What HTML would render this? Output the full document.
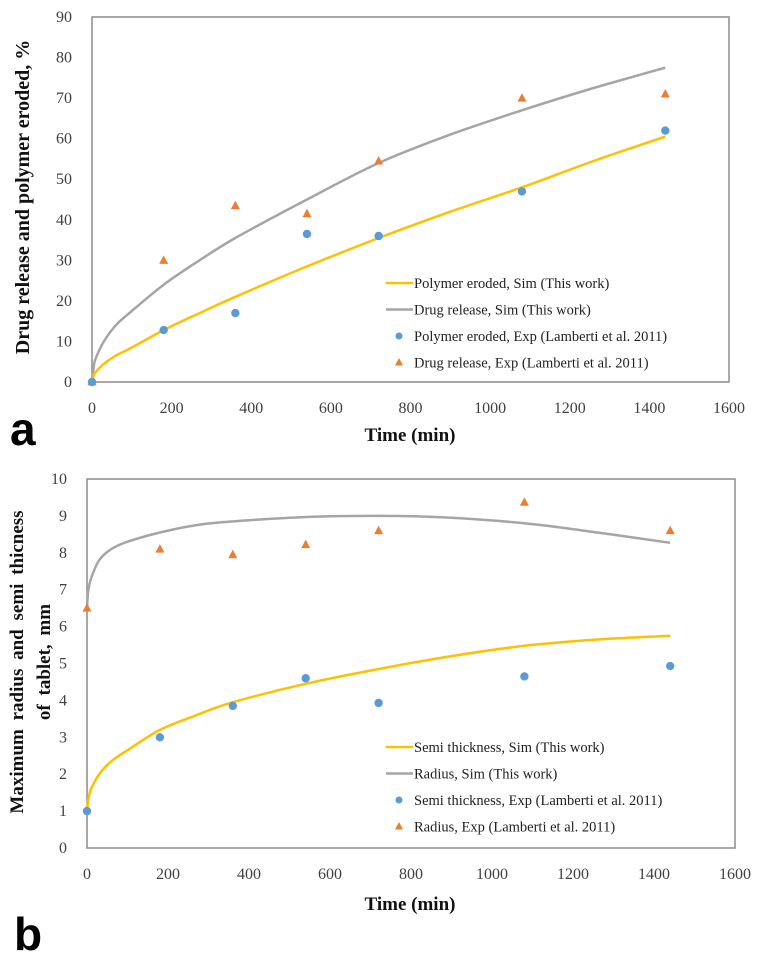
<!DOCTYPE html>
<html><head><meta charset="utf-8">
<style>
html,body{margin:0;padding:0;background:#fff;}
svg{display:block;}
text{font-family:"Liberation Serif",serif;}
</style></head>
<body>
<svg id="chart" width="758" height="962" viewBox="0 0 758 962" xmlns="http://www.w3.org/2000/svg"></svg>
<script>
// Panel a data
const aTimeExp = [0,180,360,540,720,1080,1440];
const aPolymerExp = [0,12.8,17,36.5,36,47,62];
const aDrugExp = [0,30,43.5,41.5,54.5,70,71];
const aTimeSim = [0,5,10,30,60,100,180,270,360,540,720,900,1080,1260,1440];
const aPolymerSim = [0,1.8,2.5,4.5,6.5,8.5,12.8,17,21,28.5,35.5,42,48,54.5,60.5];
const aDrugSim = [0,4.2,6,10,14,17.5,24,30,35.5,45,54,61,67,72.5,77.5];
const aYTicks = [0,10,20,30,40,50,60,70,80,90];
const xTicks = [0,200,400,600,800,1000,1200,1400,1600];
// Panel b data
const bTimeExp = [0,180,360,540,720,1080,1440];
const bSemiExp = [1,3,3.85,4.6,3.93,4.65,4.93];
const bRadiusExp = [6.5,8.1,7.95,8.22,8.6,9.37,8.6];
const bTimeSim = [0,3,10,30,60,100,180,270,360,540,720,900,1080,1260,1440];
const bSemiSim = [1,1.3,1.6,2.0,2.35,2.65,3.2,3.6,3.95,4.45,4.85,5.2,5.48,5.65,5.75];
const bRadiusSim = [6.5,6.95,7.3,7.8,8.1,8.3,8.55,8.75,8.85,8.97,9.0,8.95,8.8,8.55,8.27];
const bYTicks = [0,1,2,3,4,5,6,7,8,9,10];

const NS = 'http://www.w3.org/2000/svg';
const svg = document.getElementById('chart');
function mk(tag, attrs, parent, txt){
  const e = document.createElementNS(NS, tag);
  for (const k in attrs) e.setAttribute(k, attrs[k]);
  if (txt !== undefined) e.textContent = txt;
  (parent || svg).appendChild(e);
  return e;
}
function smooth(P){
  let d = 'M' + P[0][0].toFixed(1) + ',' + P[0][1].toFixed(1);
  for (let i = 0; i < P.length - 1; i++){
    const p0 = P[Math.max(i-1,0)], p1 = P[i], p2 = P[i+1], p3 = P[Math.min(i+2,P.length-1)];
    const c1 = [p1[0] + (p2[0]-p0[0])/6, p1[1] + (p2[1]-p0[1])/6];
    const c2 = [p2[0] - (p3[0]-p1[0])/6, p2[1] - (p3[1]-p1[1])/6];
    d += ' C' + c1.map(v=>v.toFixed(1)).join(',') + ' ' + c2.map(v=>v.toFixed(1)).join(',') + ' ' + p2.map(v=>v.toFixed(1)).join(',');
  }
  return d;
}

function panel(p){
  const g = mk('g', {});
  
  
  const sx = v => p.x0 + (v - 0) / 1600 * (p.x1 - p.x0);
  const sy = v => p.yb - v / p.ymax * (p.yb - p.yt);
  const frame = mk('rect', {x:p.x0, y:p.yt, width:p.x1-p.x0, height:p.yb-p.yt, fill:'none', stroke:'#8c8c8c', 'stroke-width':1.5}, g);
  
  
  p.yTicks.forEach(t => {
    const e = mk('text', {x:p.x0-20, y:sy(t)+5, 'text-anchor':'end', 'font-size':16, fill:'#404040'}, g, String(t));
    
    
  });
  xTicks.forEach(t => {
    const e = mk('text', {x:sx(t), y:p.yb+31, 'text-anchor':'middle', 'font-size':16, fill:'#404040'}, g, String(t));
    
    
  });
  p.lines.forEach(l => {
    const pts = l.t.map((t,i) => [sx(t), sy(l.v[i])]);
    const e = mk('path', {d:smooth(pts), fill:'none', stroke:l.c, 'stroke-width':2.5, 'stroke-linejoin':'round'}, g);
    
    
  });
  p.pts.forEach(s => {
    s.t.forEach((t,i) => {
      const x = sx(t), y = sy(s.v[i]);
      let e;
      if (s.shape === 'circle') e = mk('circle', {cx:x, cy:y, r:4.2, fill:'#5b9bd5'}, g);
      else e = mk('polygon', {points:`${x},${y-5} ${x-4.5},${y+3.5} ${x+4.5},${y+3.5}`, fill:'#ed7d31'}, g);
      
      
    });
  });
  const lg = mk('g', {}, g);
  
  
  p.legend.forEach((it, i) => {
    const y = p.ly + i * 26.5;
    let m;
    if (it.k === 'line') m = mk('line', {x1:386, x2:413, y1:y, y2:y, stroke:it.c, 'stroke-width':2.5}, lg);
    else if (it.k === 'circle') m = mk('circle', {cx:399, cy:y, r:3.5, fill:'#5b9bd5'}, lg);
    else m = mk('polygon', {points:`399,${y-4.5} 395,${y+3} 403,${y+3}`, fill:'#ed7d31'}, lg);
    
    
    const t = mk('text', {x:414, y:y+5, 'font-size':14.5, fill:'#222'}, lg, it.label);
    
    
  });
  const xt = mk('text', {x:p.xtx, y:p.xty, 'text-anchor':'middle', 'font-size':19, 'font-weight':'bold', fill:'#111'}, g, 'Time (min)');
  
  
}

panel({name:'panel-a', x0:92, x1:729, yt:17, yb:382, ymax:90, yTicks:aYTicks,
  lines:[{t:aTimeSim, v:aDrugSim, c:'#a5a5a5', n:'drug-release-sim-line'},
         {t:aTimeSim, v:aPolymerSim, c:'#ffc000', n:'polymer-eroded-sim-line'}],
  pts:[{t:aTimeExp, v:aDrugExp, shape:'tri', n:'drug-release-exp-point'},
       {t:aTimeExp, v:aPolymerExp, shape:'circle', n:'polymer-eroded-exp-point'}],
  ly:283,
  legend:[{k:'line', c:'#ffc000', label:'Polymer eroded, Sim (This work)'},
          {k:'line', c:'#a5a5a5', label:'Drug release, Sim (This work)'},
          {k:'circle', label:'Polymer eroded, Exp (Lamberti et al. 2011)'},
          {k:'tri', label:'Drug release, Exp (Lamberti et al. 2011)'}],
  xtx:410, xty:441});

panel({name:'panel-b', x0:87, x1:735, yt:479, yb:848, ymax:10, yTicks:bYTicks,
  lines:[{t:bTimeSim, v:bRadiusSim, c:'#a5a5a5', n:'radius-sim-line'},
         {t:bTimeSim, v:bSemiSim, c:'#ffc000', n:'semi-thickness-sim-line'}],
  pts:[{t:bTimeExp, v:bRadiusExp, shape:'tri', n:'radius-exp-point'},
       {t:bTimeExp, v:bSemiExp, shape:'circle', n:'semi-thickness-exp-point'}],
  ly:747,
  legend:[{k:'line', c:'#ffc000', label:'Semi thickness, Sim (This work)'},
          {k:'line', c:'#a5a5a5', label:'Radius, Sim (This work)'},
          {k:'circle', label:'Semi thickness, Exp (Lamberti et al. 2011)'},
          {k:'tri', label:'Radius, Exp (Lamberti et al. 2011)'}],
  xtx:410, xty:910});

const ya = mk('text', {transform:'translate(29,197) rotate(-90)', 'text-anchor':'middle', 'font-size':20, 'font-weight':'bold', fill:'#111'}, svg, 'Drug release and polymer eroded, %');


const yb1 = mk('text', {transform:'translate(23,662) rotate(-90)', 'text-anchor':'middle', 'font-size':19, 'font-weight':'bold', fill:'#111', 'word-spacing':'4'}, svg, 'Maximum radius and semi thicness');


const yb2 = mk('text', {transform:'translate(50,662) rotate(-90)', 'text-anchor':'middle', 'font-size':19, 'font-weight':'bold', fill:'#111', 'word-spacing':'4'}, svg, 'of tablet, mm');



const la = mk('text', {x:10, y:445, 'font-size':46, 'font-weight':'bold', fill:'#000', style:'font-family:"Liberation Sans",sans-serif'}, svg, 'a');


const lb = mk('text', {x:14, y:950, 'font-size':46, 'font-weight':'bold', fill:'#000', style:'font-family:"Liberation Sans",sans-serif'}, svg, 'b');


</script>
</body></html>
